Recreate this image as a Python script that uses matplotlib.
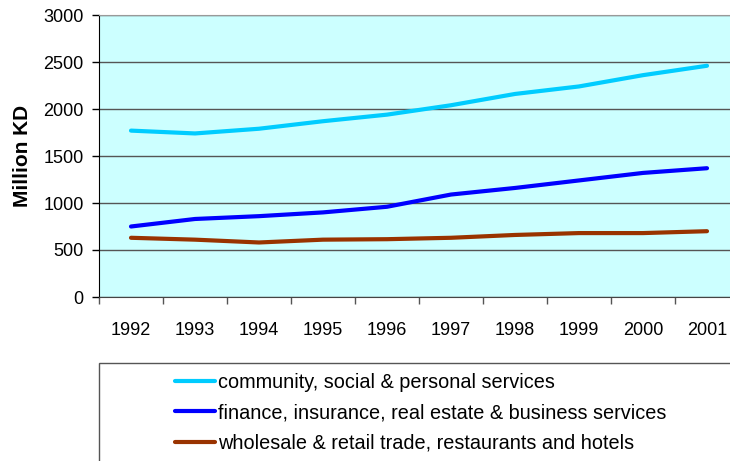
import numpy as np
import matplotlib
matplotlib.use('Agg')
import matplotlib.pyplot as plt
from matplotlib.patches import Rectangle

plt.rcParams['font.family'] = ['Liberation Sans', 'DejaVu Sans']

# ------------------------------------------------------------
# Data
# ------------------------------------------------------------
years = ['1992', '1993', '1994', '1995', '1996',
         '1997', '1998', '1999', '2000', '2001']
community = [1770, 1740, 1790, 1870, 1940, 2040, 2160, 2240, 2360, 2460]
finance   = [750, 830, 860, 900, 960, 1090, 1160, 1240, 1320, 1370]
wholesale = [630, 610, 580, 610, 615, 630, 660, 680, 680, 700]

labels = [
    'community, social & personal services',
    'finance, insurance, real estate & business services',
    'wholesale & retail trade, restaurants and hotels',
]
colors = ['#00CCFF', '#0000FF', '#993300']

W, H = 730, 461
fig = plt.figure(figsize=(W / 100, H / 100), dpi=100)
ax = fig.add_axes([99 / W, 1 - 297 / H, (739 - 99) / W, (297 - 15) / H])
ax.set_facecolor('#CCFFFF')

x = np.arange(len(years))
lines = []
for series, c, lab in zip([community, finance, wholesale], colors, labels):
    ln, = ax.plot(x, series, color=c, lw=3, label=lab, solid_capstyle='round')
    lines.append(ln)

ax.set_xlim(-0.5, len(years) - 0.5)
ax.set_ylim(0, 3000)
ax.set_yticks(np.arange(0, 3001, 500))
ax.set_xticks(x)
ax.set_xticklabels(years)
ax.set_xticks(np.arange(-0.5, len(years), 1), minor=True)
ax.tick_params(axis='x', which='major', length=0, pad=18, labelsize=13)
ax.tick_params(axis='x', which='minor', length=5, width=1, color='#555555')
ax.tick_params(axis='y', length=5, width=1, pad=6, labelsize=13)

ax.yaxis.grid(True, color='#555555', lw=1)
ax.set_axisbelow(True)
ax.spines['right'].set_visible(False)
ax.spines['top'].set_color('#999999')
ax.spines['left'].set_color('black')
ax.spines['bottom'].set_color('#444444')

ax.set_ylabel('Million KD', fontsize=15, fontweight='bold', labelpad=8)

# Legend box (runs off the right and bottom edges)
fig.patches.append(Rectangle((99 / W, -0.02), 1.0, 1 - 363 / H + 0.02,
                             transform=fig.transFigure, fill=False,
                             edgecolor='#555555', lw=1))
fig.legend(handles=lines, labels=labels, loc='upper left',
           bbox_to_anchor=(159 / W, 1 - 357 / H), frameon=False,
           fontsize=14.3, handlelength=2.0, handletextpad=0.15,
           labelspacing=0.57, borderpad=0.3)

fig.savefig('out.png', dpi=100)
